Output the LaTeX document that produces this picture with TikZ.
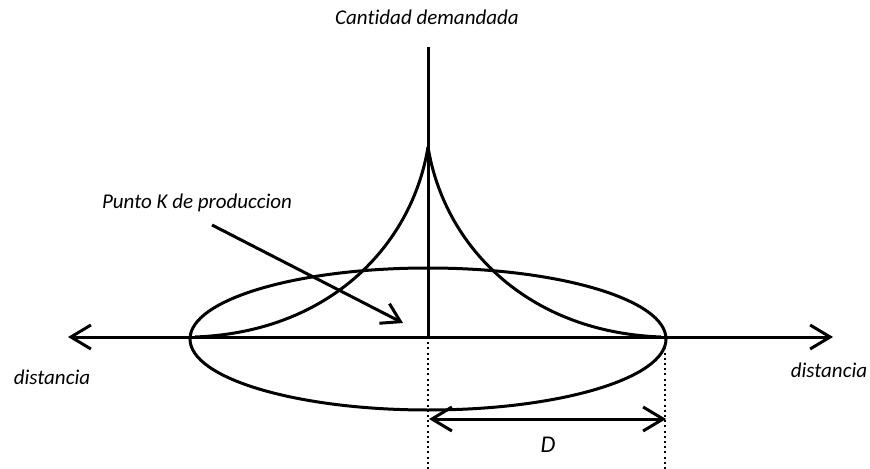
\documentclass[tikz,border=0pt]{standalone}
\usepackage{fontspec}
\setmainfont{Carlito}[Ligatures=NoCommon]
\usetikzlibrary{arrows.meta}
\tikzset{
  barb/.style={-{Straight Barb[length=10pt,width=12pt]}},
  lbl/.style={font=\itshape\fontsize{10.5}{12}\selectfont, inner sep=0pt},
  guide/.style={line width=1pt, dash pattern=on 1pt off 1.6pt}
}
\begin{document}
\begin{tikzpicture}[x=0.5pt,y=-0.5pt,line width=1.5pt]
\useasboundingbox (0,0) rectangle (870,469);

\coordinate (O) at (428,337);
\coordinate (Lend) at (68,337);
\coordinate (Rend) at (833,337);
\coordinate (Top) at (428,47);
\coordinate (Cusp) at (428,147);
\coordinate (Lfoot) at (195,337);
\coordinate (Rfoot) at (661,337);
\coordinate (Edge) at (665,337);
\coordinate (Kstart) at (212,225);
\coordinate (Kend) at (403,323);
\coordinate (DL) at (429,419);
\coordinate (DR) at (666,419);

\node[lbl] (qty) at (427,17) {Cantidad demandada};
\node[lbl] (punto) at (197,203) {Punto K de produccion};
\node[lbl] (distL) at (52,377) {distancia};
\node[lbl] (distR) at (829,370) {distancia};
\node[lbl, font=\itshape\fontsize{12}{14}\selectfont] (dlab) at (548,445) {D};

\draw[barb] (O) -- (Lend);
\draw[barb] (O) -- (Rend);
\draw (O) -- (Top);

\draw (Cusp) .. controls (412,245) and (330,332) .. (Lfoot);
\draw (Cusp) .. controls (444,245) and (526,332) .. (Rfoot);

\draw (428,339) ellipse [x radius=238, y radius=71];

\draw[-{Straight Barb[length=9pt,width=11pt]}] (Kstart) -- (Kend);

\draw[guide] (O) -- (428,469);
\draw[guide] (Edge) -- (665,469);
\draw[{Straight Barb[length=10pt,width=12pt]}-{Straight Barb[length=10pt,width=12pt]}] (DL) -- (DR);
\end{tikzpicture}
\end{document}
